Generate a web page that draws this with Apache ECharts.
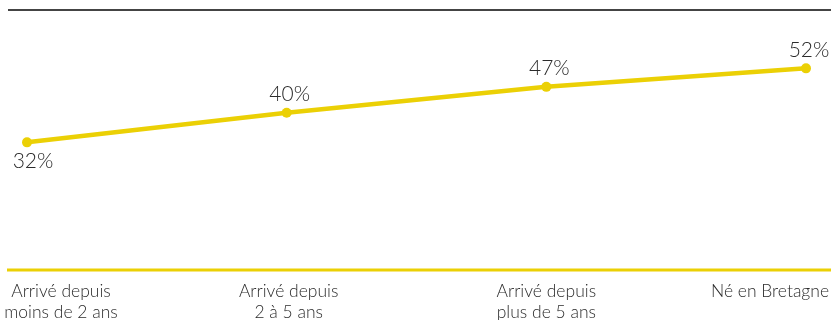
<!DOCTYPE html>
<html>
<head>
<meta charset="utf-8">
<script src="https://cdn.jsdelivr.net/npm/echarts@6/dist/echarts.min.js"></script>
<style>
  html, body { margin: 0; padding: 0; background: #ffffff; }
  #chart { width: 831px; height: 320px; }
</style>
</head>
<body>
<div id="chart"></div>
<script>
// Share of respondents by length of residence in Brittany (%)
const categories = [
  'Arrivé depuis\nmoins de 2 ans',
  'Arrivé depuis\n2 à 5 ans',
  'Arrivé depuis\nplus de 5 ans',
  'Né en Bretagne'
];
const shares = [32, 40, 47, 52];

const YELLOW = '#ebd005';
const TEXT = '#2b2b2b';
const FONT = 'Lato, "Noto Sans", sans-serif';

// Outer labels are nudged inward so they stay inside the canvas
const edgePadding = [[0, 0, 0, 68], [0, 0, 0, 4], [0, 0, 0, 0], [0, 72, 0, 0]];

const chart = echarts.init(document.getElementById('chart'), null, { renderer: 'canvas' });

const option = {
  animation: false,
  backgroundColor: '#ffffff',
  grid: { left: 27, right: 25, top: 1.75, bottom: 50, containLabel: false, outerBoundsMode: 'none' },
  xAxis: {
    type: 'category',
    boundaryGap: false,
    data: categories.map((c, i) => ({ value: c, textStyle: { padding: edgePadding[i] } })),
    axisLine: { show: false },
    axisTick: { show: false },
    splitLine: { show: false },
    axisLabel: {
      interval: 0,
      margin: 11,
      color: TEXT,
      fontFamily: FONT,
      fontSize: 17.5,
      fontWeight: 300,
      lineHeight: 21,
      align: 'center'
    }
  },
  yAxis: {
    type: 'value',
    min: -2.5,
    max: 70,
    show: false
  },
  series: [{
    type: 'line',
    symbol: 'circle',
    symbolSize: 10,
    lineStyle: { color: YELLOW, width: 4.5 },
    itemStyle: { color: YELLOW },
    label: {
      show: true,
      position: 'top',
      distance: 3,
      offset: [3, 0],
      formatter: p => p.value + '%',
      color: TEXT,
      fontFamily: FONT,
      fontSize: 21,
      fontWeight: 300
    },
    data: shares.map((v, i) => i === 0
      ? { value: v, label: { position: 'bottom', distance: 3, offset: [6, 0] } }
      : v)
  }]
};

chart.setOption(option);

// Baseline under the plot and rule at the top, placed from the y axis scale
const baseY = chart.convertToPixel({ yAxisIndex: 0 }, -2.5);
chart.setOption({
  graphic: [
    { type: 'line', shape: { x1: 7, y1: baseY, x2: 831, y2: baseY },
      style: { stroke: YELLOW, lineWidth: 3 }, silent: true },
    { type: 'line', shape: { x1: 8, y1: 10, x2: 831, y2: 10 },
      style: { stroke: '#444444', lineWidth: 2 }, silent: true }
  ]
});
</script>
</body>
</html>
